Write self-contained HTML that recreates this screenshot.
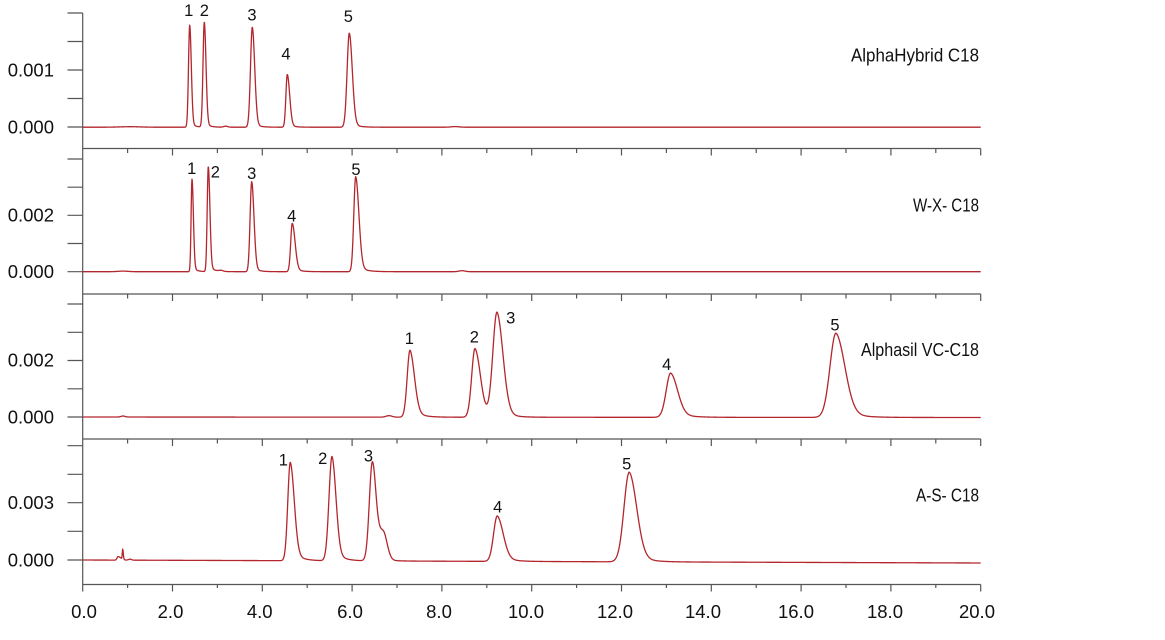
<!DOCTYPE html>
<html>
<head>
<meta charset="utf-8">
<style>
  html, body { margin: 0; padding: 0; background: #ffffff; }
  body { width: 1165px; height: 640px; overflow: hidden; }
  svg { display: block; }
  text { font-family: "Liberation Sans", "DejaVu Sans", sans-serif; fill: #111; }
  .yl { font-size: 18.5px; text-anchor: end; }
  .xl { font-size: 18.5px; text-anchor: middle; }
  .pk { font-size: 16.5px; text-anchor: middle; }
  .nm { font-size: 18px; text-anchor: end; }
</style>
</head>
<body>
<svg id="chart" width="1165" height="640" viewBox="0 0 1165 640" xmlns="http://www.w3.org/2000/svg">
  <g id="axes" stroke="#555" stroke-width="1.2" fill="none"></g>

  <!-- Y tick labels -->
  <text class="yl" x="54" y="76.4">0.001</text>
  <text class="yl" x="54" y="133.4">0.000</text>
  <text class="yl" x="54" y="221.7">0.002</text>
  <text class="yl" x="54" y="278.1">0.000</text>
  <text class="yl" x="54" y="366.4">0.002</text>
  <text class="yl" x="54" y="423.4">0.000</text>
  <text class="yl" x="54" y="509.1">0.003</text>
  <text class="yl" x="54" y="566.4">0.000</text>

  <!-- X tick labels -->
  <text class="xl" x="84" y="618">0.0</text>
  <text class="xl" x="170.5" y="618">2.0</text>
  <text class="xl" x="259.7" y="618">4.0</text>
  <text class="xl" x="350" y="618">6.0</text>
  <text class="xl" x="439" y="618">8.0</text>
  <text class="xl" x="526" y="618">10.0</text>
  <text class="xl" x="615" y="618">12.0</text>
  <text class="xl" x="703" y="618">14.0</text>
  <text class="xl" x="796" y="618">16.0</text>
  <text class="xl" x="885" y="618">18.0</text>
  <text class="xl" x="977" y="618">20.0</text>

  <!-- Panel names -->
  <text class="nm" x="979" y="61.7" textLength="128" lengthAdjust="spacingAndGlyphs">AlphaHybrid C18</text>
  <text class="nm" x="979" y="211.7" textLength="66" lengthAdjust="spacingAndGlyphs">W-X- C18</text>
  <text class="nm" x="979" y="356" textLength="118" lengthAdjust="spacingAndGlyphs">Alphasil VC-C18</text>
  <text class="nm" x="979" y="501.7" textLength="63" lengthAdjust="spacingAndGlyphs">A-S- C18</text>

  <!-- Peak labels panel 1 -->
  <text class="pk" x="188.7" y="16">1</text>
  <text class="pk" x="204.3" y="16">2</text>
  <text class="pk" x="252" y="20.7">3</text>
  <text class="pk" x="286" y="59.3">4</text>
  <text class="pk" x="348.3" y="22">5</text>
  <!-- panel 2 -->
  <text class="pk" x="191.7" y="174">1</text>
  <text class="pk" x="215.3" y="177.3">2</text>
  <text class="pk" x="251.7" y="179">3</text>
  <text class="pk" x="291.7" y="221.7">4</text>
  <text class="pk" x="356" y="175">5</text>
  <!-- panel 3 -->
  <text class="pk" x="409.3" y="344">1</text>
  <text class="pk" x="474.3" y="342.3">2</text>
  <text class="pk" x="510.7" y="323.3">3</text>
  <text class="pk" x="666.7" y="370">4</text>
  <text class="pk" x="835" y="330.7">5</text>
  <!-- panel 4 -->
  <text class="pk" x="283.3" y="465.3">1</text>
  <text class="pk" x="322.7" y="464">2</text>
  <text class="pk" x="368.5" y="461.7">3</text>
  <text class="pk" x="497.7" y="512.7">4</text>
  <text class="pk" x="626.7" y="469.3">5</text>

  <g id="curves" stroke="#b3262d" stroke-width="1.3" fill="none" stroke-linejoin="round"></g>
</svg>
<script>
(function(){
  var NS = "http://www.w3.org/2000/svg";
  var axes = document.getElementById("axes");
  var curves = document.getElementById("curves");
  var X0 = 82.7, X1 = 980.7, PX = (X1 - X0) / 20;
  var d = "";
  d += "M82.7 13V591.5";
  var hl = [148.5, 294, 439, 584.5];
  hl.forEach(function(y, idx){
    d += "M82.7 " + y + "H980.7";
    for (var i = 1; i <= 20; i++) {
      var x = (X0 + i * PX).toFixed(2);
      var len = (i % 2 === 0) ? 7 : (idx === 3 ? 3.5 : 4.5);
      d += "M" + x + " " + y + "v" + len;
    }
  });
  var yt = [13, 41.5, 70, 98.5, 127,
            159, 187.2, 215.3, 243.5, 271.7,
            304, 332.3, 360.5, 388.8, 417,
            445.7, 474.3, 502.7, 531.3, 560];
  yt.forEach(function(y){ d += "M67.5 " + y + "H82.7"; });
  var p = document.createElementNS(NS, "path");
  p.setAttribute("d", d);
  axes.appendChild(p);

  function f(pk, x) {
    var dx = x - pk.x;
    if (dx < 0) {
      return pk.h * Math.exp(-dx * dx / (2 * pk.sl * pk.sl));
    }
    var a = pk.a || 0, t = pk.t || 1;
    return pk.h * ((1 - a) * Math.exp(-dx * dx / (2 * pk.sr * pk.sr)) + a * Math.exp(-dx / t));
  }
  function P(x, h, sl, sr, a, t) { return {x:x, h:h, sl:sl, sr:sr, a:a, t:t}; }

  function draw(base, drift, peaks) {
    var s = "";
    for (var x = X0; x <= X1 + 0.001; x += 0.25) {
      var y = base + drift * (x - X0) / (X1 - X0);
      for (var i = 0; i < peaks.length; i++) y -= f(peaks[i], x);
      s += (s ? "L" : "M") + x.toFixed(2) + " " + y.toFixed(2);
    }
    var el = document.createElementNS(NS, "path");
    el.setAttribute("d", s);
    curves.appendChild(el);
  }

  // Panel 1
  draw(127.2, 0, [
    P(130, 0.5, 10, 10, 0, 1),
    P(189.7, 102, 1.2, 1.6, 0.05, 4),
    P(204.3, 105, 1.3, 1.7, 0.05, 4),
    P(225.7, 1.0, 2, 2, 0, 1),
    P(252.3, 100, 1.8, 2.4, 0.05, 5),
    P(287.3, 52.7, 1.4, 2.4, 0.06, 5),
    P(349.3, 94, 2.2, 3.0, 0.06, 6),
    P(455, 0.6, 4, 4, 0, 1)
  ]);
  // Panel 2
  draw(271.7, 0, [
    P(123, 0.6, 5, 5, 0, 1),
    P(192, 92.7, 0.9, 1.4, 0.05, 4),
    P(208.3, 105, 1.1, 1.6, 0.06, 5),
    P(221, 1.0, 2, 2, 0, 1),
    P(251.7, 90, 1.6, 2.3, 0.06, 5),
    P(292.3, 48.4, 1.6, 2.8, 0.08, 6),
    P(355.7, 95, 1.9, 3.2, 0.08, 7),
    P(462, 1.0, 3, 3, 0, 1)
  ]);
  // Panel 3
  draw(417, 0.5, [
    P(123, 1.0, 2, 2, 0, 1),
    P(389, 1.5, 3, 3, 0, 1),
    P(410, 67, 2.8, 4.5, 0.15, 8),
    P(475, 68.7, 3.3, 5.5, 0.1, 8),
    P(497, 104.7, 4.2, 6, 0.1, 9),
    P(670.7, 44.3, 4.5, 7, 0.15, 12),
    P(836, 84.3, 6, 9, 0.12, 14)
  ]);
  // Panel 4
  draw(560, 3, [
    P(118, 3.5, 1, 3, 0, 1),
    P(122.7, 10, 0.4, 0.6, 0, 1),
    P(130, 1.0, 1.5, 1.5, 0, 1),
    P(290.3, 98.4, 2.5, 4, 0.12, 8),
    P(332, 104.3, 3, 4, 0.12, 8),
    P(372.3, 95, 3, 3.5, 0.08, 8),
    P(383, 28, 5.5, 4, 0, 1),
    P(497.3, 45.5, 3.7, 6, 0.15, 10),
    P(629.3, 89.7, 5.3, 7.5, 0.12, 12)
  ]);
})();
</script>
</body>
</html>
